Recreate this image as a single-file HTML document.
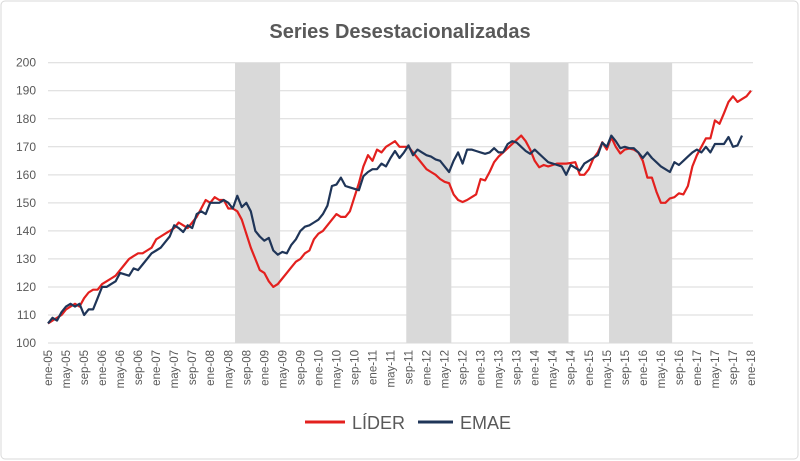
<!DOCTYPE html>
<html><head><meta charset="utf-8"><style>
html,body{margin:0;padding:0;background:#fff;}
svg{display:block;font-family:"Liberation Sans",sans-serif;}
</style></head><body>
<svg id="chart" width="800" height="461" viewBox="0 0 800 461">
<rect x="1" y="1" width="797" height="458" rx="4" fill="#fff" stroke="#d9d9d9"/>
<text x="400" y="38" text-anchor="middle" font-size="20" font-weight="bold" fill="#595959">Series Desestacionalizadas</text>
<g id="shade"></g><g id="grid"></g><g id="ylab"></g><g id="xlab"></g><g id="lines"></g>
<g>
<line x1="305" y1="422" x2="345" y2="422" stroke="#e3201e" stroke-width="3"/>
<text x="352" y="429" font-size="18" fill="#595959">LÍDER</text>
<line x1="418" y1="422" x2="453" y2="422" stroke="#1f3558" stroke-width="3"/>
<text x="460" y="429" font-size="18" fill="#595959">EMAE</text>
</g>
</svg>
<script>
const yTicks=[100,110,120,130,140,150,160,170,180,190,200];
const monthNames=["ene","feb","mar","abr","may","jun","jul","ago","sep","oct","nov","dic"];
const startYear=5;
const recessions=[[41.5,51.5],[79.5,89.5],[102.5,115.5],[124.5,138.5]];
const lider=[107,108,109,110,112,113,114,113,116,118,119,119,
121,122,123,124,126,128,130,131,132,132,133,134,
137,138,139,140,141,143,142,141,143,145,148,151,
150,152,151,151,148,148,147,144,139,134,130,126,
125,122,120,121,123,125,127,129,130,132,133,137,
139,140,142,144,146,145,145,147,152,157,163,167,
165,169,168,170,171,172,170,170,170,168,166,164,
162,161,160,158.5,157.5,157,153,151,150.3,151,152,153,
158.5,158,161,164.5,166.5,168,169.5,171,172.5,174,172,169,
165,162.7,163.5,163,163.5,164,164,164,164.2,164.5,160,160,
162,165.8,168,171.6,169,173.4,170,167.6,169,169.4,169,168,
165,159,159,154,150,150,151.6,152,153.4,153,156,163,
167,170,173,173,179.4,178.2,182,186,188,186,187,188,190];
const emae=[107,109,108,111,113,114,113,114,110,112,112,116,
120,120,121,122,125,124.5,124,126.6,126,128,130,132,
133,134,136,138,142,141,139.6,142,141,146,147,146,
150,150,150,151,150,148,152.5,148.5,150,147,140,138,
136.5,137.5,133,131.5,132.5,132,135,137,140,141.5,142,143,
144,146,149,156,156.5,159,156,155.5,155,154.5,159.5,161,
162,162,164,163,166,168.5,166,168,170.5,167,169,168,
167,166.5,165.5,165,163,161,165,168,164,169,169,168.5,
168,167.5,168,169.5,168,168,171,172,171.5,170,168.5,167.5,
169,167.5,166,164.5,164,163.5,163,160,163.5,162.5,161.5,164,
165,166,167,171.5,170,174,172,169.5,170,169.5,169.5,168,
166,168,166,164.5,163,162,161,164.5,163.5,165,166.5,168,
169,168,170,168,171,171,171,173.5,170,170.5,174];
const NS="http://www.w3.org/2000/svg";
const X0=48,X1=753,Y0=343,Y1=62.7,N=157;
const xs=i=>X0+(i+0.0)*(X1-X0-2)/(N-1);
const ys=v=>Y0-(v-100)*(Y0-Y1)/100;
function mk(t,a,p){const e=document.createElementNS(NS,t);for(const k in a)e.setAttribute(k,a[k]);p.appendChild(e);return e;}
const shade=document.getElementById('shade');
recessions.forEach((r,k)=>{const e=mk('rect',{x:xs(r[0]),y:Y1,width:xs(r[1])-xs(r[0]),height:Y0-Y1,fill:'#d9d9d9'},shade);

});
const grid=document.getElementById('grid'),yl=document.getElementById('ylab');
yTicks.forEach(v=>{const l=mk('line',{x1:X0,x2:X1,y1:ys(v),y2:ys(v),stroke:'#d9d9d9','stroke-width':1},grid);


const t=mk('text',{x:36,y:ys(v)+4,'text-anchor':'end','font-size':12,fill:'#595959'},yl);t.textContent=v;

});
const xl=document.getElementById('xlab');
for(let i=0;i<N;i+=4){const lab=monthNames[i%12]+'-'+String(startYear+Math.floor(i/12)).padStart(2,'0');
const x=xs(i)+4;const t=mk('text',{x:x,y:350,'text-anchor':'end','font-size':11.5,fill:'#595959',transform:`rotate(-90 ${x} 350)`},xl);t.textContent=lab;

}
const lines=document.getElementById('lines');
function draw(arr,col,name){const d=arr.map((v,i)=>(i?'L':'M')+xs(i).toFixed(1)+','+ys(v).toFixed(1)).join('');
const p=mk('path',{d:d,fill:'none',stroke:col,'stroke-width':2.2,'stroke-linejoin':'round'},lines);

}
draw(lider,'#e3201e','lider-line');
draw(emae,'#1f3558','emae-line');
</script>
</body></html>
